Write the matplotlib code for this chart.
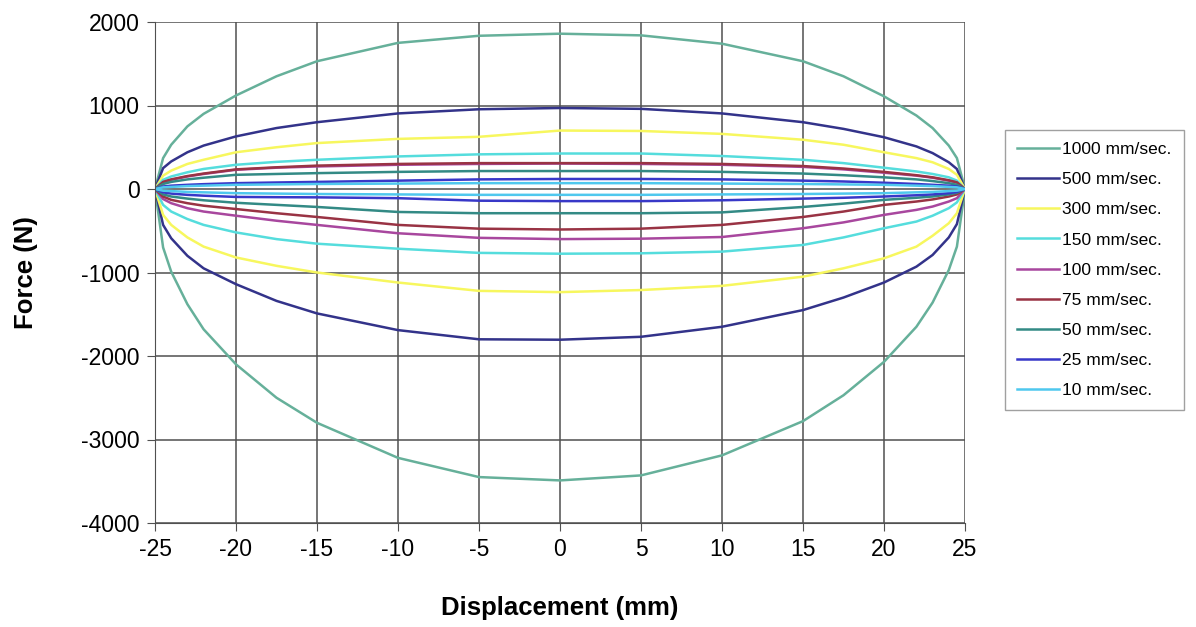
import numpy as np
import matplotlib
matplotlib.use("Agg")
import matplotlib.pyplot as plt

plt.rcParams['font.family'] = ['Liberation Sans', 'DejaVu Sans']
plt.rcParams['axes.unicode_minus'] = False

# displacement grid (mm), shared by the upper and lower branch of each loop
disp = [-25, -24.5, -24, -23, -22, -20, -17.5, -15, -10, -5, 0,
        5, 10, 15, 17.5, 20, 22, 23, 24, 24.5, 25]

# force (N), upper / lower branch per test speed
f1000_up = [0, 370, 530, 750, 900, 1120, 1350, 1530, 1750, 1835, 1860, 1840, 1740, 1530, 1350, 1110, 880, 730, 520, 370, 0]
f1000_lo = [0, -700, -990, -1380, -1680, -2100, -2500, -2800, -3220, -3450, -3490, -3430, -3190, -2780, -2470, -2070, -1650, -1360, -970, -690, 0]
f500_up = [0, 250, 330, 440, 520, 630, 730, 800, 905, 955, 970, 960, 905, 800, 720, 620, 510, 430, 320, 240, 0]
f500_lo = [0, -430, -590, -800, -950, -1140, -1340, -1490, -1690, -1800, -1805, -1770, -1650, -1450, -1300, -1120, -930, -790, -580, -420, 0]
f300_up = [0, 160, 220, 300, 350, 440, 500, 550, 600, 625, 700, 695, 660, 590, 530, 440, 370, 320, 240, 170, 0]
f300_lo = [0, -310, -430, -580, -690, -820, -920, -1000, -1120, -1220, -1235, -1210, -1160, -1050, -950, -830, -690, -560, -410, -290, 0]
f150_up = [0, 110, 150, 200, 240, 290, 325, 350, 390, 415, 425, 425, 395, 350, 310, 255, 210, 180, 140, 100, 0]
f150_lo = [0, -190, -270, -360, -430, -520, -600, -655, -715, -765, -775, -770, -750, -670, -580, -470, -390, -320, -230, -160, 0]
f100_up = [0, 80, 110, 150, 180, 230, 255, 270, 290, 300, 305, 300, 290, 265, 235, 195, 160, 135, 100, 75, 0]
f100_lo = [0, -120, -170, -230, -270, -320, -380, -430, -530, -585, -600, -595, -575, -470, -400, -310, -250, -210, -150, -110, 0]
f75_up = [0, 85, 115, 155, 185, 235, 260, 280, 300, 310, 310, 310, 300, 275, 245, 205, 165, 140, 105, 80, 0]
f75_lo = [0, -90, -130, -170, -200, -240, -290, -335, -430, -475, -485, -475, -430, -335, -270, -190, -150, -125, -90, -65, 0]
f50_up = [0, 60, 85, 115, 135, 170, 180, 190, 205, 215, 215, 215, 205, 185, 165, 140, 115, 95, 70, 50, 0]
f50_lo = [0, -65, -90, -115, -135, -165, -190, -215, -275, -290, -290, -290, -280, -215, -175, -130, -105, -90, -65, -45, 0]
f25_up = [0, 30, 40, 50, 58, 70, 78, 85, 100, 115, 120, 120, 115, 100, 90, 75, 60, 50, 40, 30, 0]
f25_lo = [0, -40, -55, -70, -80, -95, -98, -100, -110, -140, -145, -145, -135, -115, -105, -90, -75, -65, -50, -35, 0]
f10_up = [0, 20, 25, 35, 40, 50, 55, 60, 65, 70, 70, 70, 65, 60, 55, 50, 40, 35, 25, 20, 0]
f10_lo = [0, -20, -25, -35, -40, -50, -55, -60, -65, -70, -70, -70, -65, -60, -55, -50, -40, -35, -25, -20, 0]

labels = ["1000 mm/sec.", "500 mm/sec.", "300 mm/sec.", "150 mm/sec.", "100 mm/sec.",
          "75 mm/sec.", "50 mm/sec.", "25 mm/sec.", "10 mm/sec."]
uppers = [f1000_up, f500_up, f300_up, f150_up, f100_up, f75_up, f50_up, f25_up, f10_up]
lowers = [f1000_lo, f500_lo, f300_lo, f150_lo, f100_lo, f75_lo, f50_lo, f25_lo, f10_lo]
colors = ["#66B09A", "#33338A", "#F7F75E", "#55DDDD", "#A8479E",
          "#993344", "#338A85", "#3838C8", "#4FC8EE"]

fig = plt.figure(figsize=(11.96, 6.27), dpi=100)
ax = fig.add_axes([155 / 1196, 1 - 523 / 627, 810 / 1196, 501 / 627])

x = np.array(disp, dtype=float)
for lab, up, lo, c in zip(labels, uppers, lowers, colors):
    xx = np.concatenate([x, x[::-1]])
    yy = np.concatenate([up, lo[::-1]])
    ax.plot(xx, yy, color=c, lw=1.8, label=lab)

ax.set_xlim(-25, 25)
ax.set_ylim(-4000, 2000)
ax.set_xticks(np.arange(-25, 26, 5))
ax.set_yticks(np.arange(-4000, 2001, 1000))
ax.grid(True, color="#505050", lw=1.1)
ax.set_axisbelow(True)
for s in ["top", "right"]:
    ax.spines[s].set_visible(False)
for s in ["left", "bottom"]:
    ax.spines[s].set_color("#505050")
ax.tick_params(direction="out", length=6, color="#505050", labelsize=16.5, pad=5)
ax.set_xlabel("Displacement (mm)", fontsize=18.5, fontweight="bold")
ax.set_ylabel("Force (N)", fontsize=18.5, fontweight="bold")
ax.xaxis.set_label_coords(0.5, -0.145)
ax.yaxis.set_label_coords(-0.144, 0.5)

leg = ax.legend(loc="upper left", bbox_to_anchor=(1005 / 1196, 1 - 130 / 627),
                bbox_transform=fig.transFigure, fontsize=12.5, frameon=True,
                fancybox=False, edgecolor="#888888", handlelength=2.4,
                handletextpad=0.2, labelspacing=0.86, borderpad=0.7,
                borderaxespad=0)
leg.get_frame().set_linewidth(1.0)

fig.savefig("out.png", dpi=100)
